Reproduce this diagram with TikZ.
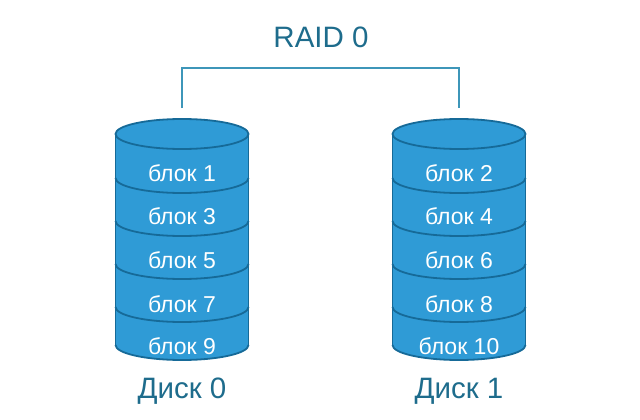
\documentclass[tikz,border=0pt]{standalone}
\usepackage{fontspec}
\setmainfont{Liberation Sans}
\definecolor{cylfill}{RGB}{47,155,214}
\definecolor{cylline}{RGB}{22,106,152}
\definecolor{labelc}{RGB}{30,108,140}
\definecolor{connc}{RGB}{62,150,185}
\tikzset{
  cylbody/.style={fill=cylfill, draw=cylline, line width=1.8pt},
  sep/.style={draw=cylline, line width=1.8pt},
  blocktext/.style={text=white, font=\fontsize{23}{26}\selectfont, inner sep=0pt},
  disklabel/.style={text=labelc, font=\fontsize{29.5}{33}\selectfont, inner sep=0pt},
  conn/.style={draw=connc, line width=1.8pt}
}
\newcommand{\mycyl}[2]{%
  % #1 = center x, #2 = name prefix
  \fill[cylfill] (#1-66.5,134) -- (#1-66.5,345) arc[start angle=180,end angle=360,x radius=66.5pt,y radius=15pt] -- (#1+66.5,134) -- cycle;
  \draw[sep] (#1-66.5,345) arc[start angle=180,end angle=360,x radius=66.5pt,y radius=15pt];
  \draw[sep] (#1-66.5,134) -- (#1-66.5,345);
  \draw[sep] (#1+66.5,134) -- (#1+66.5,345);
  \foreach \yy in {178,221,264,307}{
    \draw[sep] (#1-66.5,\yy) arc[start angle=180,end angle=360,x radius=66.5pt,y radius=15pt];
  }
  \draw[cylbody] (#1,134) ellipse[x radius=66.5pt,y radius=15pt];
  \coordinate (#2top) at (#1,108);
}
\begin{document}
\begin{tikzpicture}[x=1pt,y=-1pt]
\useasboundingbox (0,0) rectangle (640,420);
\mycyl{182}{dA}
\mycyl{459}{dB}
\node[blocktext] (a1) at (182,173) {блок 1};
\node[blocktext] (a3) at (182,216) {блок 3};
\node[blocktext] (a5) at (182,260) {блок 5};
\node[blocktext] (a7) at (182,304) {блок 7};
\node[blocktext] (a9) at (182,346) {блок 9};
\node[blocktext] (b2) at (459,173) {блок 2};
\node[blocktext] (b4) at (459,216) {блок 4};
\node[blocktext] (b6) at (459,260) {блок 6};
\node[blocktext] (b8) at (459,304) {блок 8};
\node[blocktext] (b10) at (459,346) {блок 10};
\node[disklabel] (lA) at (182,391) {Диск 0};
\node[disklabel] (lB) at (459,391) {Диск 1};
\node[disklabel] (raid) at (321,37) {RAID 0};
\draw[conn] (dAtop) -- (182,68) -| (dBtop);
\end{tikzpicture}
\end{document}
